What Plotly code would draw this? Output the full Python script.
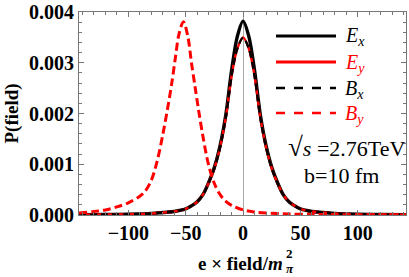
import plotly.graph_objects as go

# ---- data ----
ex_x = [-143, -120, -100, -80, -70, -60, -50, -45, -40, -35, -30, -25, -20, -15, -10, -5, 0,
        5, 10, 15, 20, 25, 30, 35, 40, 45, 50, 60, 70, 80, 100, 120, 142]
ex_y = [0.000005, 0.00001, 0.000015, 0.00003, 0.00005, 0.00007, 0.00012, 0.00018, 0.00026, 0.00040,
        0.00064, 0.00094, 0.00137, 0.00198, 0.00285, 0.00352, 0.00382,
        0.00352, 0.00285, 0.00198, 0.00137, 0.00094, 0.00064, 0.00040, 0.00026, 0.00018, 0.00012,
        0.00007, 0.00005, 0.00003, 0.000015, 0.00001, 0.000005]

ey_x = [-143, -120, -100, -80, -70, -60, -50, -45, -40, -35, -30, -25, -20, -15, -10, -5, 0,
        5, 10, 15, 20, 25, 30, 35, 40, 45, 50, 60, 70, 80, 100, 120, 142]
ey_y = [0.000005, 0.00001, 0.000015, 0.00003, 0.00005, 0.00007, 0.00012, 0.00018, 0.00026, 0.00040,
        0.00063, 0.00092, 0.00134, 0.00193, 0.00274, 0.00328, 0.00350,
        0.00328, 0.00274, 0.00193, 0.00134, 0.00092, 0.00063, 0.00040, 0.00026, 0.00018, 0.00012,
        0.00007, 0.00005, 0.00003, 0.000015, 0.00001, 0.000005]

bx_x = [-143, -120, -100, -80, -70, -60, -50, -45, -40, -35, -30, -25, -20, -15, -10, -5, 0,
        5, 10, 15, 20, 25, 30, 35, 40, 45, 50, 60, 70, 80, 100, 120, 142]
bx_y = [0.000005, 0.00001, 0.000015, 0.00003, 0.00005, 0.00007, 0.00012, 0.00018, 0.00026, 0.00040,
        0.00063, 0.00092, 0.00134, 0.00193, 0.00274, 0.00328, 0.00349,
        0.00328, 0.00274, 0.00193, 0.00134, 0.00092, 0.00063, 0.00040, 0.00026, 0.00018, 0.00012,
        0.00007, 0.00005, 0.00003, 0.000015, 0.00001, 0.000005]

by_x = [-143, -130, -120, -110, -100, -90, -85, -80, -75, -70, -65, -62, -59, -56, -52, -48, -45,
        -42, -39, -35, -30, -25, -20, -15, -10, 0, 10, 20, 40, 60, 80, 100, 120, 142]
by_y = [0.00004, 0.00007, 0.00010, 0.00016, 0.00024, 0.00037, 0.00048, 0.00068, 0.00105, 0.00158,
        0.00220, 0.00262, 0.00310, 0.00355, 0.00381, 0.00350, 0.00300, 0.00255, 0.00210, 0.00155,
        0.00098, 0.00062, 0.00040, 0.00027, 0.00019, 0.00010, 0.00006, 0.00004, 0.00002, 0.000012,
        0.000008, 0.000006, 0.000005, 0.000004]

series_names = ["E<sub>x</sub>", "E<sub>y</sub>", "B<sub>x</sub>", "B<sub>y</sub>"]
x_ticks = [-100, -50, 0, 50, 100]
x_tick_labels = ["−100", "−50", "0", "50", "100"]
y_ticks = [0.000, 0.001, 0.002, 0.003, 0.004]
y_tick_labels = ["0.000", "0.001", "0.002", "0.003", "0.004"]

FONT = "Liberation Serif"
BLACK = "#000000"
RED = "#ff0000"
FRAME = "#777777"

fig = go.Figure()
styles = [
    (ex_x, ex_y, BLACK, 3.4, "solid"),
    (ey_x, ey_y, RED, 2.4, "solid"),
    (bx_x, bx_y, BLACK, 2.4, "7px,4px"),
    (by_x, by_y, RED, 3.0, "8px,4px"),
]
for (xs, ys, col, w, dash), name in zip(styles, series_names):
    fig.add_trace(go.Scatter(x=xs, y=ys, mode="lines", name=name, showlegend=False,
                             line=dict(color=col, width=w, dash=dash, shape="spline", smoothing=0.9)))

# ---- layout geometry (plot area 79..406 x 12..215 px) ----
L, R, T, B = 79, 406, 12, 215
W, H = 409, 277


def px(p):
    return (p - L) / (R - L)


def py(p):
    return (B - p) / (B - T)


fig.update_layout(
    width=W, height=H,
    margin=dict(l=L, r=W - R, t=T, b=H - B),
    paper_bgcolor="white", plot_bgcolor="white",
    font=dict(family=FONT),
    showlegend=False,
    xaxis=dict(range=[-143, 142], tickvals=x_ticks,
               ticktext=["<b>%s</b>" % t for t in x_tick_labels],
               tickfont=dict(family=FONT, size=20, color=BLACK),
               showline=True, linecolor=FRAME, linewidth=1, mirror="ticks",
               ticks="inside", ticklen=5, tickcolor=FRAME, tickwidth=1, showgrid=False,
               zeroline=True, zerolinecolor="#aaaaaa", zerolinewidth=1,
               minor=dict(dtick=10, tick0=0, ticks="inside", ticklen=3, tickcolor=FRAME,
                          showgrid=False)),
    yaxis=dict(range=[0, 0.004], tickvals=y_ticks, showticklabels=False,
               showline=True, linecolor=FRAME, linewidth=1, mirror="ticks",
               ticks="inside", ticklen=5, tickcolor=FRAME, tickwidth=1, showgrid=False,
               zeroline=False,
               minor=dict(dtick=0.0002, tick0=0, ticks="inside", ticklen=3, tickcolor=FRAME,
                          showgrid=False)),
)

# y tick labels placed at the axis' own tick values (serif bold, like the reference)
for v, t in zip(y_ticks, y_tick_labels):
    fig.add_annotation(text="<b>%s</b>" % t, xref="paper", yref="y", x=px(76), y=v,
                       xanchor="right", yanchor="middle", showarrow=False,
                       font=dict(family=FONT, size=20, color=BLACK))

# ---- manual legend (samples + labels) ----
leg_rows = [36, 62, 88, 113]
leg_colors = [BLACK, RED, BLACK, RED]
leg_widths = [3.2, 3.2, 2.4, 2.4]
leg_dash = ["solid", "solid", "dash", "dash"]
leg_text = ["<i>E<sub>x</sub></i>", "<i>E<sub>y</sub></i>", "<i>B<sub>x</sub></i>", "<i>B<sub>y</sub></i>"]
for yy, c, w, d, t in zip(leg_rows, leg_colors, leg_widths, leg_dash, leg_text):
    fig.add_shape(type="line", xref="paper", yref="paper", x0=px(276), x1=px(336),
                  y0=py(yy), y1=py(yy), line=dict(color=c, width=w, dash=d))
    fig.add_annotation(text=t, xref="paper", yref="paper", x=px(343), y=py(yy + 1),
                       xanchor="left", yanchor="middle", showarrow=False,
                       font=dict(family=FONT, size=20, color=c))

fig.add_annotation(text="<span style='font-size:27px'>√</span><i>s</i> =2.76TeV",
                   xref="paper", yref="paper", x=px(407), y=py(147),
                   xanchor="right", yanchor="middle", showarrow=False,
                   font=dict(family=FONT, size=22, color=BLACK))
fig.add_annotation(text="b=10 fm", xref="paper", yref="paper", x=px(341), y=py(175),
                   xanchor="center", yanchor="middle", showarrow=False,
                   font=dict(family=FONT, size=22, color=BLACK))

# ---- axis titles ----
fig.add_annotation(text="<b>P(field)</b>", xref="paper", yref="paper", x=px(11), y=0.5,
                   textangle=-90, xanchor="center", yanchor="middle", showarrow=False,
                   font=dict(family=FONT, size=19, color=BLACK))
fig.add_annotation(text="<b>e × field/<i>m</i></b>", xref="paper", yref="paper", x=px(285), y=py(263),
                   xanchor="right", yanchor="middle", showarrow=False,
                   font=dict(family=FONT, size=19, color=BLACK))
fig.add_annotation(text="<b>2</b>", xref="paper", yref="paper", x=px(284), y=py(253),
                   xanchor="left", yanchor="middle", showarrow=False,
                   font=dict(family=FONT, size=13, color=BLACK))
fig.add_annotation(text="<b><i>π</i></b>", xref="paper", yref="paper", x=px(284), y=py(268),
                   xanchor="left", yanchor="middle", showarrow=False,
                   font=dict(family=FONT, size=13, color=BLACK))

fig.write_html("out.html", config={"displayModeBar": False},
               post_script="document.body.style.margin='0px';document.body.style.padding='0px';")
